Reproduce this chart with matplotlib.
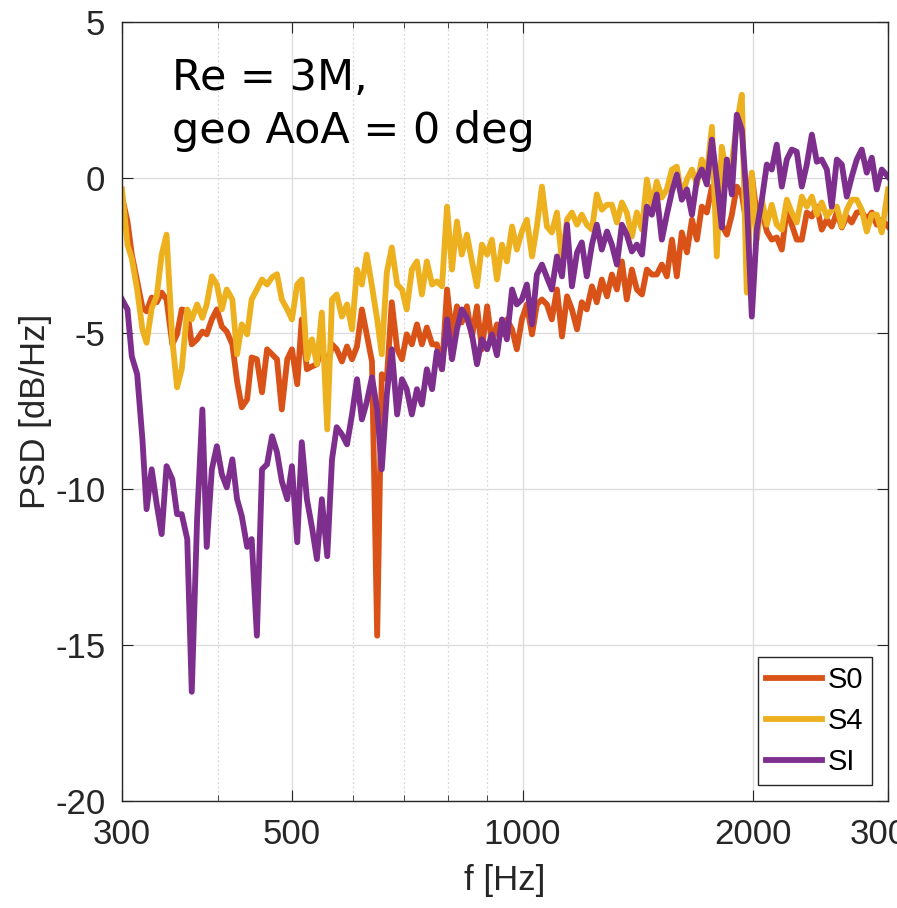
import matplotlib
matplotlib.use('Agg')
import matplotlib.pyplot as plt
from matplotlib.ticker import FixedLocator, NullFormatter

# frequency bins [Hz]
freq = [300, 305, 309, 314, 319, 323, 328, 333, 338, 343,
        349, 354, 359, 365, 370, 376, 382, 387, 393, 399,
        405, 411, 418, 424, 430, 437, 443, 450, 457, 464,
        471, 478, 485, 493, 500, 508, 515, 523, 531, 539,
        547, 556, 564, 572, 581, 590, 599, 608, 617, 626,
        636, 646, 655, 665, 675, 686, 696, 706, 717, 728,
        739, 750, 762, 773, 785, 797, 809, 821, 833, 846,
        859, 872, 885, 899, 912, 926, 940, 954, 969, 983,
        998, 1013, 1029, 1044, 1060, 1076, 1092, 1109, 1126, 1143,
        1160, 1178, 1195, 1213, 1232, 1250, 1269, 1289, 1308, 1328,
        1348, 1368, 1389, 1410, 1432, 1453, 1475, 1497, 1520, 1543,
        1567, 1590, 1614, 1639, 1664, 1689, 1714, 1740, 1767, 1793,
        1820, 1848, 1876, 1904, 1933, 1962, 1992, 2022, 2053, 2084,
        2115, 2147, 2180, 2213, 2246, 2280, 2315, 2350, 2386, 2422,
        2458, 2496, 2533, 2572, 2611, 2650, 2690, 2731, 2772, 2814,
        2857, 2900, 2944, 3000]

# PSD [dB/Hz]
psd_s0 = [-0.61, -1.41, -2.47, -3.33, -4.17, -4.29, -3.85, -4.0, -3.69, -3.91,
          -5.35, -5.03, -4.23, -4.29, -5.35, -5.19, -4.94, -5.03, -4.55, -4.23,
          -4.78, -4.94, -5.35, -6.54, -7.37, -7.12, -5.77, -5.83, -6.89, -5.51,
          -5.67, -5.83, -7.44, -5.83, -5.51, -6.63, -4.55, -6.15, -6.06, -5.99,
          -5.42, -6.15, -5.35, -5.51, -5.9, -5.42, -5.83, -5.42, -4.23, -5.03,
          -5.9, -14.7, -6.31, -6.47, -4.0, -5.51, -5.83, -5.03, -5.35, -4.71,
          -5.35, -4.81, -5.35, -5.35, -6.15, -3.59, -5.1, -4.13, -4.65, -4.13,
          -5.1, -4.13, -5.51, -4.13, -5.29, -4.71, -5.03, -4.55, -4.87, -5.51,
          -4.55, -4.07, -5.03, -4.07, -3.91, -4.07, -4.55, -3.59, -5.1, -3.81,
          -4.23, -4.87, -4.0, -4.23, -3.49, -4.0, -3.27, -3.81, -3.11, -3.59,
          -2.69, -3.91, -2.95, -3.59, -3.75, -2.95, -3.11, -3.11, -2.79, -3.17,
          -1.99, -3.17, -1.76, -2.4, -1.35, -1.99, -0.93, -1.12, -0.29, -0.93,
          -1.51, -1.83, -1.19, -0.29, -0.54, -1.51, 0.1, -1.19, -1.03, -1.73,
          -1.99, -1.92, -2.31, -1.03, -1.51, -1.99, -1.99, -1.12, -1.25, -0.93,
          -1.67, -1.35, -1.57, -1.12, -1.6, -1.25, -1.44, -1.12, -1.09, -1.35,
          -1.12, -1.51, -1.35, -1.57]

psd_s4 = [-0.38, -2.15, -2.6, -3.6, -4.87, -5.3, -4.2, -3.8, -2.47, -1.83,
          -5.2, -6.73, -6.15, -4.23, -4.55, -4.07, -4.5, -4.07, -3.17, -3.43,
          -4.23, -3.59, -3.91, -5.67, -4.71, -5.03, -3.91, -3.59, -3.27, -3.43,
          -3.2, -3.1, -3.91, -4.23, -4.55, -3.43, -3.27, -5.83, -5.19, -5.99,
          -4.33, -8.08, -3.91, -3.75, -4.46, -4.07, -4.87, -2.95, -3.43, -2.47,
          -3.49, -4.55, -5.67, -3.04, -2.24, -3.43, -3.59, -4.23, -2.95, -2.69,
          -3.75, -2.69, -3.43, -3.33, -3.49, -0.93, -2.95, -1.41, -2.47, -1.83,
          -2.69, -3.49, -2.15, -2.47, -1.99, -3.27, -2.15, -2.69, -1.57, -2.31,
          -1.73, -1.35, -2.53, -1.57, -0.29, -1.57, -1.76, -1.12, -2.72, -1.35,
          -1.12, -1.51, -1.19, -1.51, -1.67, -0.54, -1.03, -0.87, -0.87, -1.44,
          -0.8, -1.12, -1.89, -1.12, -1.67, -0.06, -0.93, -0.13, -0.64, -0.38,
          0.26, 0.35, -0.61, -0.06, 0.26, -0.22, 0.58, 0.1, 1.63, -2.53,
          0.99, 0.1, 0.48, 1.7, 2.66, -3.69, 0.16, -1.99, -0.71, -1.51,
          -0.87, -1.51, -1.67, -0.71, -1.12, -1.44, -0.61, -0.93, -0.61, -1.19,
          -0.8, -1.25, -1.03, -0.93, -1.57, -1.03, -0.71, -0.71, -1.03, -1.73,
          -1.19, -1.19, -1.76, -0.38]

psd_si = [-3.91, -4.23, -5.74, -6.31, -8.4, -10.64, -9.36, -10.48, -11.44, -9.26,
          -9.68, -10.8, -10.8, -11.6, -16.5, -10.96, -7.44, -11.85, -9.36, -8.62,
          -9.52, -9.94, -9.04, -10.32, -10.86, -11.85, -11.6, -14.7, -9.36, -9.2,
          -8.3, -8.81, -9.74, -10.32, -9.26, -11.7, -8.49, -10.32, -11.22, -12.24,
          -10.32, -12.15, -9.04, -8.01, -8.24, -8.56, -7.6, -6.47, -7.76, -7.21,
          -6.41, -7.44, -9.36, -6.96, -5.51, -7.6, -6.47, -6.79, -7.6, -6.79,
          -7.28, -6.15, -6.79, -5.58, -6.15, -4.55, -5.83, -4.87, -4.23, -4.49,
          -5.03, -5.99, -5.19, -5.51, -5.03, -5.7, -4.55, -5.19, -3.59, -4.07,
          -3.91, -3.43, -4.71, -3.11, -2.79, -3.2, -3.59, -2.53, -3.17, -1.51,
          -3.49, -2.4, -2.08, -3.17, -2.15, -1.51, -2.31, -1.73, -2.15, -2.79,
          -1.51, -1.83, -2.37, -2.15, -2.47, -0.93, -1.19, -0.54, -1.99, -1.19,
          -0.45, 0.1, -0.71, -0.38, -1.19, -0.06, 0.26, -0.22, 1.22, -0.06,
          -1.6, 0.58, -0.54, 2.02, 1.54, -0.71, -4.46, -1.67, -0.71, 0.42,
          0.26, 1.06, -0.29, 0.58, 0.9, 0.83, -0.29, 0.42, 1.38, 0.51,
          0.58, 0.26, -0.93, 0.58, 0.42, -0.61, 0.03, 0.58, 0.9, 0.16,
          0.64, -0.38, 0.26, 0.03]

xticks = [300, 500, 1000, 2000, 3000]
yticks = [-20, -15, -10, -5, 0, 5]

label_font = ['Liberation Sans', 'DejaVu Sans']
dark = '#262626'

fig = plt.figure(figsize=(8.97, 9.08), dpi=100)
ax = fig.add_axes([0.136, 0.118, 0.854, 0.858])

ax.plot(freq, psd_s0, color='#D95319', lw=4.2, label='S0')
ax.plot(freq, psd_s4, color='#EDB120', lw=4.2, label='S4')
ax.plot(freq, psd_si, color='#7E2F8E', lw=4.2, label='SI')

ax.set_xscale('log')
ax.set_xlim(300, 3000)
ax.set_ylim(-20, 5)
ax.set_xticks(xticks)
ax.set_xticklabels([str(t) for t in xticks])
ax.xaxis.set_minor_locator(FixedLocator([400, 600, 700, 800, 900]))
ax.xaxis.set_minor_formatter(NullFormatter())
ax.set_yticks(yticks)
ax.set_yticklabels([str(t) for t in yticks])

ax.grid(True, which='major', color='#dddddd', lw=1)
ax.grid(True, which='minor', axis='x', color='#d8d8d8', lw=0.9, ls=(0, (1.5, 2)))
ax.set_axisbelow(True)

ax.tick_params(which='major', direction='in', length=8, top=True, right=True,
               labelsize=25, colors=dark, pad=12)
ax.tick_params(which='minor', direction='in', length=4, top=True, right=True, colors=dark)
for lab in ax.get_xticklabels() + ax.get_yticklabels():
    lab.set_family(label_font)
for sp in ax.spines.values():
    sp.set_color(dark)
    sp.set_linewidth(1.0)

ax.set_xlabel('f [Hz]', fontsize=25, family=label_font, color=dark, labelpad=10)
ax.set_ylabel('PSD [dB/Hz]', fontsize=25, family=label_font, color=dark, labelpad=2)

ax.text(0.065, 0.955, 'Re = 3M,\ngeo AoA = 0 deg', transform=ax.transAxes,
        ha='left', va='top', fontsize=31, linespacing=1.35, color='black',
        family='DejaVu Sans')

leg = ax.legend(loc='lower right', handlelength=1.9, handletextpad=0.2,
                labelspacing=0.45, borderpad=0.3, borderaxespad=0.55,
                fancybox=False, framealpha=1, edgecolor=dark,
                prop={'family': label_font, 'size': 21})
leg.get_frame().set_linewidth(1.0)

fig.savefig('out.png', dpi=100)
